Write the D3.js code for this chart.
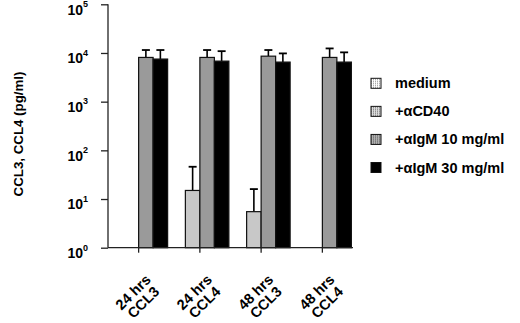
<!DOCTYPE html>
<html>
<head>
<meta charset="utf-8">
<script src="https://cdn.jsdelivr.net/npm/d3@7/dist/d3.min.js"></script>
<style>
  body { margin: 0; background: #fff; }
  svg { display: block; font-family: Arial, "Liberation Sans", sans-serif; font-weight: bold; }
  .axis path, .axis line { stroke: #222; stroke-width: 1.3; }
</style>
</head>
<body>
<div id="chart"></div>
<script>
// data
const times = ['24 hrs', '24 hrs', '48 hrs', '48 hrs'];
const chemokines = ['CCL3', 'CCL4', 'CCL3', 'CCL4'];
const series = ['medium', '+\u03b1CD40', '+\u03b1IgM 10 mg/ml', '+\u03b1IgM 30 mg/ml'];
const medium = [1, 1, 1, 1];
const cd40 = [1, 15, 5.5, 1];
const igm10 = [8100, 8100, 8600, 8100];
const igm30 = [7500, 6800, 6500, 6500];
// top of error bars
const mediumErr = [null, null, null, null];
const cd40Err = [null, 46, 16, null];
const igm10Err = [11500, 11500, 11500, 12400];
const igm30Err = [11500, 10900, 9800, 10300];
const yTicks = [1, 10, 100, 1000, 10000, 100000];

const values = [medium, cd40, igm10, igm30];
const errors = [mediumErr, cd40Err, igm10Err, igm30Err];
const fills = ['#ffffff', '#c8c8c8', '#9a9a9a', '#000000'];

// dimensions
const W = 520;
const H = 323;
const marginLeft = 108;
const marginRight = 167;
const marginTop = 4.3;
const marginBottom = 75.3;
const width = W - marginLeft - marginRight;
const height = H - marginTop - marginBottom;

const svg = d3.select('#chart').append('svg').attr('width', W).attr('height', H);

// legend patterns
const defs = svg.append('defs');
function dotPattern(id, bg, dot, step) {
  const p = defs.append('pattern')
    .attr('id', id)
    .attr('width', step)
    .attr('height', step)
    .attr('patternUnits', 'userSpaceOnUse');
  p.append('rect').attr('width', step).attr('height', step).attr('fill', bg);
  p.append('rect').attr('width', 1).attr('height', 1).attr('fill', dot);
}
dotPattern('pat0', '#ffffff', '#888', 2);
dotPattern('pat1', '#dcdcdc', '#666', 2);
dotPattern('pat2', '#b0b0b0', '#555', 2);

const g = svg.append('g').attr('transform', `translate(${marginLeft},${marginTop})`);

// scales
const idx = d3.range(times.length);
const x0 = d3.scaleBand().domain(idx).range([0, width]).padding(0);
const x1 = d3.scaleBand().domain(d3.range(series.length))
  .range([x0.bandwidth() / 2 - 29, x0.bandwidth() / 2 + 29]);
const y = d3.scaleLog().domain([1, 1e5]).range([height, 0]);

// bars
const groups = g.selectAll('.grp')
  .data(idx)
  .join('g')
  .attr('class', 'grp')
  .attr('transform', i => `translate(${x0(i)},0)`);

const bars = groups.selectAll('.bar')
  .data(i => values.map((s, k) => ({ k, v: s[i], e: errors[k][i] })).filter(d => d.v > 1))
  .join('g')
  .attr('class', 'bar');

// error bars
bars.filter(d => d.e != null)
  .append('line')
  .attr('x1', d => x1(d.k) + x1.bandwidth() / 2)
  .attr('x2', d => x1(d.k) + x1.bandwidth() / 2)
  .attr('y1', d => y(d.v))
  .attr('y2', d => y(d.e))
  .attr('stroke', '#000')
  .attr('stroke-width', 1.6);

bars.filter(d => d.e != null)
  .append('line')
  .attr('x1', d => x1(d.k) + x1.bandwidth() / 2 - 4)
  .attr('x2', d => x1(d.k) + x1.bandwidth() / 2 + 4)
  .attr('y1', d => y(d.e))
  .attr('y2', d => y(d.e))
  .attr('stroke', '#000')
  .attr('stroke-width', 1.8);

bars.append('rect')
  .attr('x', d => x1(d.k))
  .attr('y', d => y(d.v))
  .attr('width', x1.bandwidth())
  .attr('height', d => height - y(d.v))
  .attr('fill', d => fills[d.k])
  .attr('stroke', '#111')
  .attr('stroke-width', 1.2);

// y axis
const axisY = d3.axisLeft(y).tickValues(yTicks).tickSize(7).tickPadding(13).tickFormat(() => '');
const $ay = g.append('g').attr('class', 'axis').call(axisY);
$ay.select('.domain').attr('d', `M0,0V${height}`);
$ay.selectAll('.tick text')
  .style('font-size', '14px')
  .attr('fill', '#000')
  .attr('dy', '0.7em')
  .text('10')
  .append('tspan')
  .attr('dy', -7.5)
  .style('font-size', '9px')
  .text(d => Math.round(Math.log10(d)));

// x axis
const axisX = d3.axisBottom(x0).tickSize(5).tickFormat('');
const $ax = g.append('g').attr('class', 'axis')
  .attr('transform', `translate(0,${height})`)
  .call(axisX);
$ax.select('.domain').attr('d', `M0,0H${width}`);

// x labels
const $xl = g.selectAll('.xlabel')
  .data(idx)
  .join('text')
  .attr('class', 'xlabel')
  .attr('text-anchor', 'middle')
  .style('font-size', '14.5px')
  .attr('transform', i => `translate(${x0(i) + x0.bandwidth() / 2},${height + 50}) rotate(-45)`);
$xl.append('tspan').attr('x', 0).attr('dy', '-0.2em').text(i => times[i]);
$xl.append('tspan').attr('x', 0).attr('dy', '1em').text(i => chemokines[i]);

// y title
svg.append('text')
  .attr('transform', `translate(22.5,${marginTop + height / 2 + 8}) rotate(-90)`)
  .attr('text-anchor', 'middle')
  .style('font-size', '13.3px')
  .text('CCL3, CCL4 (pg/ml)');

// legend
const ly = d3.scalePoint().domain(d3.range(series.length)).range([83.3, 167.5]);
const $leg = svg.append('g').selectAll('g')
  .data(series)
  .join('g')
  .attr('transform', (d, k) => `translate(371,${ly(k)})`);
$leg.append('rect')
  .attr('x', 0)
  .attr('y', -5)
  .attr('width', 10)
  .attr('height', 10)
  .attr('fill', (d, k) => (k < 3 ? `url(#pat${k})` : '#000'))
  .attr('stroke', '#111')
  .attr('stroke-width', 1);
$leg.append('text')
  .attr('x', 24)
  .attr('y', 5)
  .style('font-size', '14.5px')
  .text(d => d);
</script>
</body>
</html>
